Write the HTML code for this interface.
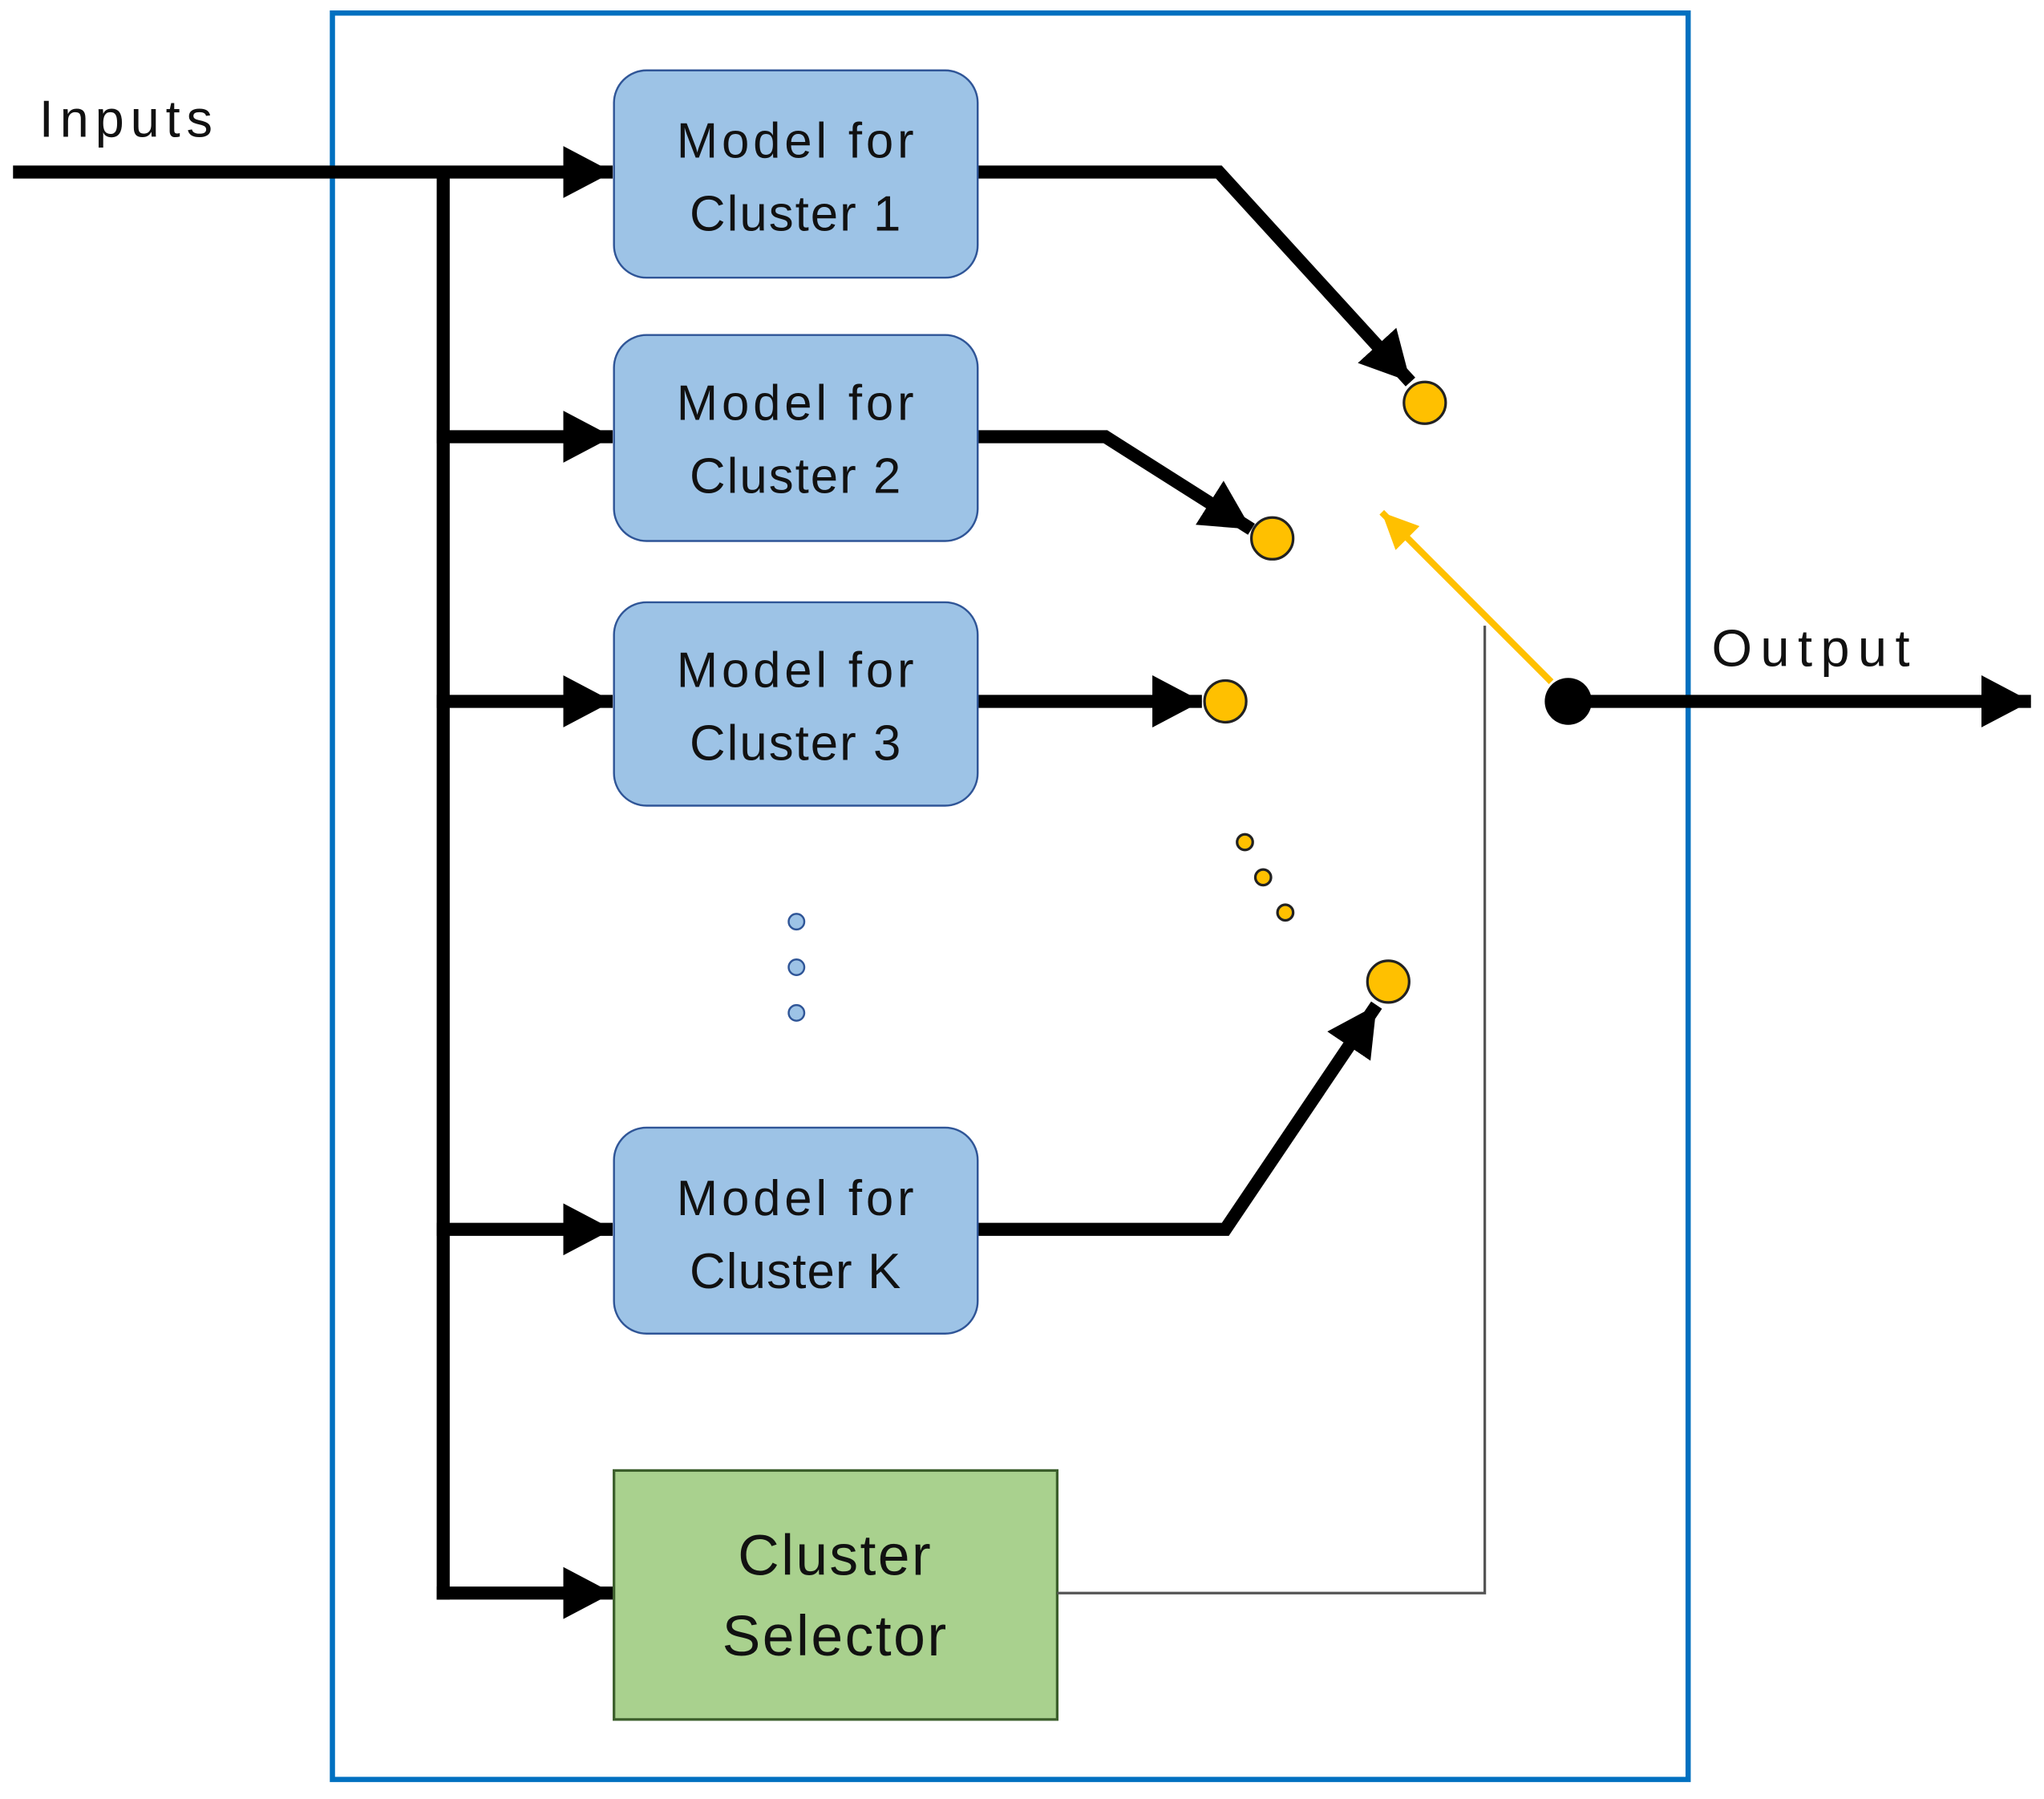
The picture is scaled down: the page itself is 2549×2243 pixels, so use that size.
<!DOCTYPE html>
<html><head><meta charset="utf-8"><style>
html,body{margin:0;padding:0;background:#fff;}
svg{display:block;}
text{font-family:"Liberation Sans",sans-serif;fill:#111;}
</style></head><body>
<svg width="2549" height="2243" viewBox="0 0 1568 1380" preserveAspectRatio="none" xmlns="http://www.w3.org/2000/svg">
<defs>
<marker id="ah" markerUnits="userSpaceOnUse" markerWidth="40" markerHeight="40" refX="38" refY="20" orient="auto">
<path d="M0,0 L38,20 L0,40 Z" fill="#000"/></marker>
<marker id="ay" markerUnits="userSpaceOnUse" markerWidth="30" markerHeight="30" refX="28" refY="13" orient="auto">
<path d="M0,0 L28,13 L0,26 Z" fill="#FFC000"/></marker>
</defs>
<rect x="255" y="10" width="1040" height="1355" fill="none" stroke="#0070C0" stroke-width="4"/>
<text x="30" y="105" font-size="40" textLength="133" lengthAdjust="spacing">Inputs</text>
<g stroke="#000" stroke-width="10" fill="none">
<line x1="10" y1="132" x2="470" y2="132" marker-end="url(#ah)"/>
<line x1="340" y1="132" x2="340" y2="1227"/>
<line x1="335" y1="335" x2="470" y2="335" marker-end="url(#ah)"/>
<line x1="335" y1="538" x2="470" y2="538" marker-end="url(#ah)"/>
<line x1="335" y1="943" x2="470" y2="943" marker-end="url(#ah)"/>
<line x1="335" y1="1222" x2="470" y2="1222" marker-end="url(#ah)"/>
<polyline points="750,132 935,132 1082,293" marker-end="url(#ah)"/>
<polyline points="750,335 848,335 960,406" marker-end="url(#ah)"/>
<line x1="750" y1="538" x2="922" y2="538" marker-end="url(#ah)"/>
<polyline points="750,943 940,943 1056,771" marker-end="url(#ah)"/>
<line x1="1203" y1="538" x2="1558" y2="538" marker-end="url(#ah)"/>
</g>
<g fill="#9DC3E6" stroke="#2F5597" stroke-width="1.5">
<rect x="471" y="54" width="279" height="159" rx="25"/>
<rect x="471" y="257" width="279" height="158" rx="25"/>
<rect x="471" y="462" width="279" height="156" rx="25"/>
<rect x="471" y="865" width="279" height="158" rx="25"/>
<circle cx="611" cy="707" r="6"/><circle cx="611" cy="742" r="6"/><circle cx="611" cy="777" r="6"/>
</g>
<g font-size="38" text-anchor="middle">
<text x="610" y="121" textLength="182" lengthAdjust="spacing">Model for</text><text x="610" y="177" textLength="162" lengthAdjust="spacing">Cluster 1</text>
<text x="610" y="322" textLength="182" lengthAdjust="spacing">Model for</text><text x="610" y="378" textLength="162" lengthAdjust="spacing">Cluster 2</text>
<text x="610" y="527" textLength="182" lengthAdjust="spacing">Model for</text><text x="610" y="583" textLength="162" lengthAdjust="spacing">Cluster 3</text>
<text x="610" y="932" textLength="182" lengthAdjust="spacing">Model for</text><text x="610" y="988" textLength="162" lengthAdjust="spacing">Cluster K</text>
</g>
<rect x="471" y="1128" width="340" height="191" fill="#A9D18E" stroke="#3B5E2B" stroke-width="2"/>
<text x="640" y="1208" font-size="44" text-anchor="middle" textLength="148" lengthAdjust="spacing">Cluster</text>
<text x="640" y="1270" font-size="44" text-anchor="middle" textLength="172" lengthAdjust="spacing">Selector</text>
<polyline points="811,1222 1139,1222 1139,480" fill="none" stroke="#555" stroke-width="2"/>
<line x1="1190" y1="523" x2="1060" y2="393" stroke="#FFC000" stroke-width="5" marker-end="url(#ay)"/>
<g fill="#FFC000" stroke="#222" stroke-width="2">
<circle cx="1093" cy="309" r="16"/><circle cx="976" cy="413" r="16"/>
<circle cx="940" cy="538" r="16"/><circle cx="1065" cy="753" r="16"/>
<circle cx="955" cy="646" r="6"/><circle cx="969" cy="673" r="6"/><circle cx="986" cy="700" r="6"/>
</g>
<circle cx="1203" cy="538" r="18" fill="#000"/>
<text x="1313" y="511" font-size="40" textLength="152" lengthAdjust="spacing">Output</text>
</svg>
</body></html>
